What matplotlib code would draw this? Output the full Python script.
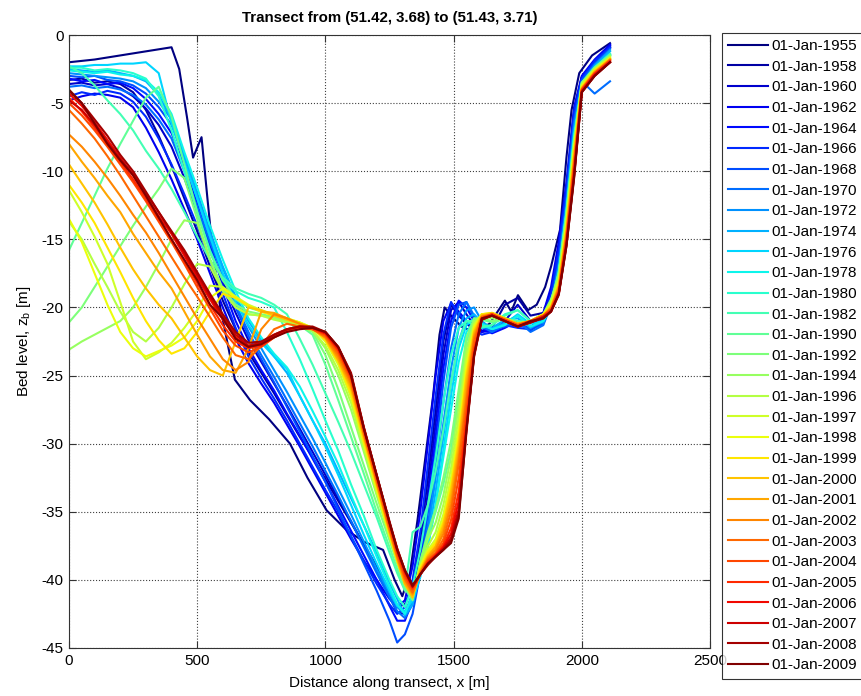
import numpy as np
import matplotlib.pyplot as plt

plt.rcParams['font.family'] = ['Liberation Sans', 'DejaVu Sans']
plt.rcParams['mathtext.fontset'] = 'custom'
plt.rcParams['mathtext.rm'] = 'Liberation Sans'
plt.rcParams['mathtext.it'] = 'Liberation Sans:italic'
plt.rcParams['axes.unicode_minus'] = False

# --- survey dates (legend) ---
years = [1955, 1958, 1960, 1962, 1964, 1966, 1968, 1970, 1972, 1974, 1976,
         1978, 1980, 1982, 1990, 1992, 1994, 1996, 1997, 1998, 1999, 2000,
         2001, 2002, 2003, 2004, 2005, 2006, 2007, 2008, 2009]

# --- 1955 profile (own distance points) ---
d1955 = [0, 100, 200, 300, 400, 430, 460, 484, 517, 540,
         556, 589, 647, 706, 780, 862, 930, 1005, 1080, 1150,
         1225, 1270, 1300, 1330, 1360, 1390, 1420, 1445, 1465, 1490,
         1530, 1580, 1640, 1700, 1725, 1751, 1790, 1824, 1857, 1880,
         1915, 1940, 1960, 1990, 2040, 2110]
z1955 = [-2.0, -1.8, -1.5, -1.2, -0.9, -2.5, -6.0, -9.0, -7.5, -12.0,
         -15.0, -19.9, -25.3, -26.8, -28.2, -30.0, -32.5, -34.9, -36.3, -37.2,
         -37.8, -40.0, -41.2, -39.5, -35.5, -31.0, -26.5, -22.0, -20.0, -20.6,
         -21.4, -21.8, -21.2, -19.5, -20.3, -19.1, -20.2, -19.8, -18.5, -17.0,
         -14.3, -9.0, -5.5, -2.8, -1.5, -0.6]

# --- distance along transect for the other surveys [m] ---
dist = [0, 50, 100, 150, 200, 250, 300, 350, 400, 450,
        500, 550, 600, 650, 700, 750, 800, 850, 900, 950,
        1000, 1050, 1100, 1150, 1200, 1250, 1280, 1310, 1340, 1370,
        1400, 1430, 1460, 1490, 1520, 1550, 1580, 1610, 1650, 1700,
        1750, 1800, 1850, 1880, 1910, 1940, 1970, 2000, 2050, 2110]

z1958 = [-3.3, -3.2, -3.5, -3.4, -3.6, -4.2, -5.5, -7.4, -9.6, -12.0,
         -14.4, -17.0, -19.5, -21.6, -23.3, -24.8, -26.3, -27.9, -29.5, -31.0,
         -32.6, -34.2, -35.8, -37.4, -39.0, -40.8, -42.0, -41.8, -40.5, -37.0,
         -32.5, -27.5, -22.5, -19.8, -20.6, -21.2, -21.6, -21.8, -21.5, -19.8,
         -19.3, -20.6, -20.4, -18.8, -15.8, -11.5, -5.5, -3.1, -1.9, -0.8]
z1960 = [-3.6, -3.5, -3.7, -3.6, -3.9, -4.5, -5.4, -6.6, -8.2, -10.5,
         -13.0, -15.6, -18.1, -20.4, -22.4, -24.0, -25.6, -27.2, -28.9, -30.6,
         -32.3, -34.0, -35.7, -37.5, -39.3, -41.2, -42.4, -42.5, -41.0, -38.0,
         -33.5, -28.5, -23.5, -20.2, -19.6, -20.5, -21.3, -21.7, -21.8, -21.0,
         -19.8, -21.0, -20.6, -19.0, -16.0, -11.8, -5.8, -3.2, -2.0, -0.9]
z1962 = [-4.8, -4.5, -4.3, -4.4, -4.6, -5.3, -6.8, -8.6, -10.6, -12.8,
         -15.0, -17.5, -20.0, -22.3, -24.1, -25.6, -27.0, -28.6, -30.2, -31.9,
         -33.6, -35.3, -37.0, -38.6, -40.0, -41.4, -42.0, -41.5, -39.0, -35.0,
         -30.0, -25.0, -21.0, -19.7, -20.3, -21.0, -21.5, -21.8, -21.7, -21.2,
         -21.3, -21.5, -20.4, -18.5, -15.2, -10.8, -5.3, -3.0, -1.8, -0.7]
z1964 = [-3.2, -3.4, -3.3, -3.6, -3.5, -3.9, -4.7, -5.8, -7.2, -9.6,
         -12.4, -15.4, -18.4, -21.0, -23.0, -24.6, -26.1, -27.8, -29.4, -31.1,
         -32.8, -34.6, -36.4, -38.2, -40.0, -41.9, -43.0, -43.0, -41.5, -39.0,
         -34.5, -29.5, -24.5, -21.0, -19.5, -20.0, -21.0, -21.5, -21.9, -21.5,
         -21.0, -21.7, -21.0, -19.3, -16.2, -11.6, -5.7, -3.1, -1.9, -0.8]
z1966 = [-4.5, -4.2, -4.4, -4.1, -4.3, -4.9, -6.0, -7.6, -9.5, -11.7,
         -14.0, -16.5, -19.0, -21.5, -23.6, -25.2, -26.7, -28.3, -30.0, -31.7,
         -33.4, -35.0, -36.8, -38.6, -40.3, -41.8, -42.5, -42.0, -40.0, -36.5,
         -31.5, -26.5, -22.0, -19.6, -20.5, -21.0, -21.6, -22.0, -21.8, -21.3,
         -21.5, -21.6, -20.8, -19.0, -15.8, -11.2, -5.6, -3.2, -1.9, -0.9]
z1968 = [-3.0, -3.1, -3.0, -3.3, -3.4, -3.7, -4.3, -5.3, -6.6, -9.0,
         -12.0, -14.8, -17.6, -20.0, -22.1, -23.8, -25.5, -27.3, -29.1, -30.9,
         -32.8, -34.8, -36.8, -38.8, -40.8, -43.0, -44.6, -44.0, -42.5, -39.5,
         -35.0, -30.5, -25.5, -21.5, -19.8, -19.6, -20.8, -21.5, -21.6, -21.4,
         -21.2, -21.6, -21.2, -19.6, -16.6, -12.0, -6.2, -3.3, -2.1, -1.0]
z1970 = [-3.8, -3.7, -3.9, -3.8, -4.0, -4.4, -5.1, -6.2, -7.6, -10.0,
         -12.6, -15.2, -17.6, -19.8, -21.8, -23.5, -25.1, -26.8, -28.5, -30.2,
         -32.0, -33.8, -35.7, -37.6, -39.5, -41.3, -42.3, -42.8, -41.8, -39.5,
         -36.0, -31.5, -27.0, -23.0, -20.5, -19.6, -20.6, -21.4, -21.8, -21.3,
         -21.0, -21.8, -21.3, -19.8, -16.8, -12.3, -6.5, -3.4, -4.3, -3.4]
z1972 = [-2.8, -2.9, -3.0, -3.1, -3.2, -3.4, -3.9, -4.9, -6.2, -8.8,
         -11.6, -14.4, -17.1, -19.4, -21.4, -23.0, -24.6, -26.2, -27.9, -29.6,
         -31.4, -33.3, -35.2, -37.2, -39.2, -41.0, -42.0, -42.5, -41.5, -39.0,
         -36.5, -32.5, -28.5, -24.5, -21.5, -20.2, -20.0, -21.0, -21.6, -21.1,
         -20.6, -21.4, -21.1, -19.8, -17.0, -12.5, -6.8, -3.5, -2.2, -1.1]
z1974 = [-2.5, -2.6, -2.7, -2.6, -2.8, -3.0, -3.4, -4.4, -6.2, -8.8,
         -11.8, -14.6, -17.0, -19.2, -21.0, -22.4, -23.6, -24.8, -26.5, -28.3,
         -30.0, -32.0, -34.0, -36.0, -38.0, -40.2, -41.4, -42.6, -41.8, -39.6,
         -37.0, -33.5, -29.5, -25.5, -22.5, -20.8, -20.5, -21.1, -21.5, -20.9,
         -20.8, -21.5, -21.0, -20.0, -17.2, -12.8, -7.1, -3.6, -2.3, -1.2]
z1976 = [-2.3, -2.3, -2.2, -2.2, -2.1, -2.1, -2.0, -2.8, -6.5, -9.3,
         -12.0, -14.8, -17.5, -19.6, -21.3, -22.6, -23.6, -24.5, -26.5, -28.3,
         -30.2, -32.3, -34.5, -36.7, -38.8, -40.8, -41.9, -42.3, -41.5, -39.8,
         -37.5, -34.5, -30.5, -26.5, -23.0, -21.3, -20.8, -21.3, -21.6, -21.2,
         -20.5, -21.2, -21.0, -20.0, -17.5, -13.0, -7.3, -3.7, -2.4, -1.4]
z1978 = [-2.6, -2.7, -2.8, -2.7, -2.9, -3.0, -3.3, -4.2, -5.8, -8.6,
         -11.2, -14.0, -16.5, -18.8, -20.8, -22.2, -23.4, -24.4, -25.8, -27.6,
         -29.5, -31.5, -33.8, -36.0, -38.3, -40.5, -41.8, -42.5, -41.0, -39.5,
         -37.5, -34.5, -31.0, -27.5, -24.0, -21.8, -21.0, -21.2, -21.6, -21.3,
         -20.6, -21.4, -21.0, -20.0, -17.5, -13.2, -7.6, -3.8, -2.5, -1.5]
z1980 = [-2.4, -2.4, -2.6, -2.5, -2.6, -2.8, -3.2, -4.5, -7.0, -10.0,
         -13.0, -15.8, -18.0, -18.8, -19.3, -19.6, -20.0, -21.8, -23.8, -26.0,
         -28.3, -30.5, -33.0, -35.3, -37.8, -40.0, -41.2, -42.0, -40.5, -37.8,
         -34.5, -31.0, -27.0, -23.5, -21.5, -21.0, -21.3, -21.5, -21.3, -20.5,
         -20.2, -21.0, -20.8, -19.8, -17.5, -13.0, -7.5, -3.7, -2.4, -1.4]
z1982 = [-2.3, -2.8, -3.7, -4.8, -5.8, -7.0, -8.5, -9.8, -11.3, -13.0,
         -14.8, -16.5, -17.8, -18.6, -19.0, -19.3, -19.8, -20.5, -22.3, -24.2,
         -26.3, -28.4, -30.6, -33.0, -35.4, -38.0, -39.5, -40.8, -36.5, -36.1,
         -34.5, -32.0, -29.0, -25.5, -22.5, -21.0, -21.0, -21.4, -21.3, -20.6,
         -20.2, -21.0, -20.7, -19.8, -17.4, -13.0, -7.6, -3.6, -2.4, -1.4]
z1990 = [-15.8, -13.8, -11.8, -9.8, -8.0, -6.3, -4.6, -3.8, -6.0, -9.5,
         -13.0, -16.0, -18.0, -19.4, -20.0, -20.3, -20.5, -20.8, -21.3, -22.0,
         -24.2, -26.8, -29.5, -32.2, -35.0, -37.6, -39.2, -40.7, -41.4, -38.8,
         -36.8, -35.0, -33.0, -30.5, -26.5, -22.5, -21.0, -20.9, -21.1, -20.8,
         -21.0, -21.1, -20.6, -19.6, -17.6, -13.2, -7.8, -3.5, -2.4, -1.5]
z1992 = [-21.1, -20.0, -18.5, -17.0, -15.5, -14.0, -12.6, -11.3, -9.8, -10.5,
         -13.5, -16.5, -18.6, -19.8, -20.3, -20.5, -20.7, -21.0, -21.4, -21.8,
         -23.5, -26.0, -28.8, -31.6, -34.4, -37.1, -38.8, -40.4, -41.5, -38.6,
         -36.5, -34.8, -32.5, -29.8, -26.0, -22.2, -20.8, -20.8, -21.0, -20.9,
         -21.2, -21.0, -20.5, -19.5, -17.5, -13.2, -7.8, -3.5, -2.4, -1.5]
z1994 = [-23.1, -22.5, -22.0, -21.5, -21.0, -20.0, -18.5, -16.8, -15.0, -13.6,
         -13.8, -16.5, -18.8, -20.0, -20.5, -20.6, -20.8, -21.0, -21.3, -21.7,
         -23.0, -25.0, -27.5, -30.6, -33.8, -36.8, -38.6, -40.2, -41.3, -38.8,
         -37.0, -35.8, -33.8, -31.0, -27.2, -23.0, -21.0, -20.6, -20.8, -20.9,
         -21.2, -21.0, -20.5, -19.4, -17.8, -13.5, -8.0, -3.6, -2.5, -1.6]
z1996 = [-13.7, -15.0, -16.8, -18.5, -20.3, -21.8, -22.5, -21.5, -20.0, -18.3,
         -16.8, -17.0, -18.8, -20.0, -20.5, -20.6, -20.9, -21.1, -21.4, -21.7,
         -22.8, -24.6, -27.0, -30.3, -33.6, -36.8, -38.6, -40.2, -41.2, -39.0,
         -37.5, -36.5, -34.5, -31.8, -28.0, -23.5, -21.2, -20.5, -20.6, -20.9,
         -21.2, -21.0, -20.5, -19.6, -18.0, -13.8, -8.2, -3.6, -2.5, -1.6]
z1997 = [-11.4, -13.0, -14.8, -16.8, -19.6, -22.5, -23.8, -23.3, -22.6, -21.5,
         -20.2, -18.4, -18.5, -19.2, -19.8, -20.2, -20.5, -20.8, -21.1, -21.5,
         -22.5, -24.2, -26.6, -30.0, -33.4, -36.7, -38.6, -40.2, -41.1, -39.0,
         -37.8, -37.0, -35.2, -32.5, -28.8, -24.0, -21.3, -20.5, -20.5, -20.8,
         -21.2, -21.0, -20.5, -19.8, -18.0, -13.8, -8.3, -3.7, -2.6, -1.7]
z1998 = [-13.5, -15.2, -17.5, -19.8, -21.8, -23.0, -23.6, -23.2, -22.8, -22.2,
         -21.0, -19.3, -18.6, -19.3, -19.9, -20.3, -20.6, -20.8, -21.1, -21.5,
         -22.4, -24.0, -26.4, -29.9, -33.3, -36.7, -38.6, -40.3, -41.2, -39.1,
         -37.9, -37.2, -35.6, -33.0, -29.3, -24.5, -21.5, -20.5, -20.4, -20.8,
         -21.2, -21.0, -20.5, -19.8, -18.2, -14.0, -8.5, -3.8, -2.6, -1.7]
z1999 = [-11.0, -12.3, -13.8, -15.6, -17.4, -19.3, -21.0, -22.4, -23.4, -23.0,
         -21.8, -20.3, -19.0, -19.3, -19.9, -20.3, -20.6, -20.9, -21.2, -21.5,
         -22.4, -24.0, -26.3, -29.8, -33.2, -36.6, -38.6, -40.3, -41.2, -39.2,
         -38.0, -37.3, -35.8, -33.2, -29.6, -24.8, -21.6, -20.5, -20.4, -20.8,
         -21.2, -21.0, -20.5, -19.9, -18.2, -14.1, -8.6, -3.8, -2.6, -1.7]
z2000 = [-9.5, -10.9, -12.3, -13.9, -15.6, -17.2, -18.6, -19.8, -20.8, -22.2,
         -23.6, -24.6, -25.0, -22.5, -20.0, -20.2, -20.6, -20.9, -21.2, -21.5,
         -22.3, -23.9, -26.0, -29.6, -33.0, -36.5, -38.5, -40.3, -41.3, -39.3,
         -38.2, -37.5, -36.0, -33.5, -30.0, -25.2, -21.8, -20.6, -20.4, -20.8,
         -21.2, -21.0, -20.6, -20.0, -18.4, -14.3, -8.8, -3.9, -2.7, -1.8]
z2001 = [-8.0, -9.3, -10.5, -11.8, -13.0, -14.6, -16.0, -17.4, -18.6, -20.3,
         -22.0, -23.6, -24.6, -24.8, -23.0, -20.3, -20.4, -20.8, -21.2, -21.5,
         -22.2, -23.8, -25.8, -29.4, -32.9, -36.4, -38.4, -40.2, -41.1, -39.4,
         -38.3, -37.6, -36.3, -34.0, -30.5, -25.8, -22.0, -20.6, -20.5, -20.9,
         -21.2, -21.0, -20.6, -20.0, -18.5, -14.5, -9.0, -3.9, -2.7, -1.8]
z2002 = [-7.3, -8.2, -9.3, -10.5, -11.8, -13.2, -14.5, -16.0, -17.6, -19.2,
         -20.8, -22.3, -23.8, -24.6, -24.0, -21.6, -20.5, -20.8, -21.2, -21.6,
         -22.2, -23.6, -25.6, -29.3, -32.8, -36.3, -38.3, -40.0, -41.0, -39.5,
         -38.4, -37.8, -36.6, -34.5, -31.0, -26.5, -22.2, -20.7, -20.5, -20.9,
         -21.3, -21.0, -20.6, -20.1, -18.6, -14.7, -9.3, -4.0, -2.8, -1.8]
z2003 = [-5.5, -6.5, -7.6, -8.9, -10.3, -11.8, -13.3, -14.8, -16.3, -17.8,
         -19.2, -20.7, -22.2, -23.5, -23.8, -22.8, -21.6, -21.2, -21.4, -21.6,
         -22.1, -23.4, -25.4, -29.2, -32.7, -36.2, -38.2, -39.9, -40.9, -39.5,
         -38.5, -38.0, -37.0, -35.0, -31.5, -27.0, -22.5, -20.7, -20.5, -20.9,
         -21.3, -21.0, -20.6, -20.1, -18.7, -14.8, -9.5, -4.0, -2.8, -1.9]
z2004 = [-5.0, -5.9, -7.0, -8.2, -9.5, -10.8, -12.2, -13.7, -15.2, -16.8,
         -18.5, -20.1, -21.7, -22.8, -23.3, -22.9, -22.2, -21.7, -21.5, -21.6,
         -22.0, -23.2, -25.2, -29.0, -32.5, -36.0, -38.0, -39.7, -40.7, -39.6,
         -38.6, -38.1, -37.3, -35.6, -32.5, -27.8, -23.0, -20.8, -20.5, -20.9,
         -21.3, -21.0, -20.6, -20.2, -18.8, -15.0, -9.7, -4.0, -2.8, -1.9]
z2005 = [-4.6, -5.6, -6.8, -8.0, -9.3, -10.6, -12.0, -13.5, -15.0, -16.6,
         -18.2, -19.8, -21.3, -22.5, -23.0, -22.8, -22.2, -21.7, -21.5, -21.5,
         -21.9, -23.1, -25.1, -28.9, -32.4, -35.9, -37.9, -39.5, -40.6, -39.6,
         -38.7, -38.2, -37.5, -36.2, -33.5, -28.5, -23.3, -20.8, -20.5, -21.0,
         -21.4, -21.1, -20.7, -20.2, -18.9, -15.2, -10.0, -4.1, -2.9, -1.9]
z2006 = [-4.3, -5.2, -6.4, -7.7, -9.0, -10.3, -11.8, -13.3, -14.6, -16.2,
         -17.8, -19.4, -20.9, -22.2, -22.9, -22.7, -22.1, -21.6, -21.4, -21.5,
         -21.9, -23.0, -25.0, -28.9, -32.4, -35.8, -37.8, -39.4, -40.5, -39.6,
         -38.8, -38.2, -37.6, -36.6, -34.2, -28.8, -23.4, -20.8, -20.6, -21.0,
         -21.4, -21.1, -20.7, -20.3, -19.0, -15.3, -10.2, -4.1, -2.9, -2.0]
z2007 = [-4.8, -5.5, -6.6, -7.9, -9.1, -10.2, -11.6, -13.0, -14.5, -16.0,
         -17.6, -19.2, -20.7, -22.0, -22.8, -22.6, -22.0, -21.6, -21.4, -21.5,
         -21.8, -22.9, -24.9, -28.8, -32.3, -35.8, -37.7, -39.3, -40.4, -39.6,
         -38.8, -38.3, -37.7, -36.9, -34.8, -29.0, -23.5, -20.9, -20.6, -21.0,
         -21.4, -21.1, -20.7, -20.3, -19.0, -15.4, -10.3, -4.2, -3.0, -2.0]
z2008 = [-4.1, -5.0, -6.2, -7.4, -8.8, -10.0, -11.5, -13.0, -14.4, -15.8,
         -17.4, -19.0, -20.5, -21.8, -22.6, -22.5, -22.0, -21.6, -21.4, -21.4,
         -21.8, -22.9, -24.8, -28.8, -32.3, -35.7, -37.7, -39.3, -40.5, -39.6,
         -38.9, -38.3, -37.8, -37.1, -35.2, -29.2, -23.6, -20.9, -20.6, -21.0,
         -21.4, -21.1, -20.8, -20.3, -19.1, -15.5, -10.4, -4.2, -3.0, -2.0]
z2009 = [-4.0, -5.0, -6.5, -8.0, -9.2, -10.3, -11.8, -13.4, -15.0, -16.5,
         -18.0, -19.8, -20.8, -22.3, -22.9, -22.7, -22.2, -21.8, -21.6, -21.5,
         -21.8, -22.9, -25.0, -28.9, -32.3, -35.8, -37.8, -39.3, -40.4, -39.6,
         -38.8, -38.3, -37.8, -37.3, -35.5, -29.0, -23.5, -20.8, -20.6, -21.0,
         -21.4, -21.0, -20.8, -20.3, -19.0, -15.5, -10.5, -4.2, -3.0, -2.0]

profiles = [z1958, z1960, z1962, z1964, z1966, z1968, z1970, z1972, z1974,
            z1976, z1978, z1980, z1982, z1990, z1992, z1994, z1996, z1997,
            z1998, z1999, z2000, z2001, z2002, z2003, z2004, z2005, z2006,
            z2007, z2008, z2009]

labels = ['01-Jan-%d' % y for y in years]
colors = plt.cm.jet(np.linspace(0, 1, len(years)))

fig = plt.figure(figsize=(8.62, 6.96), dpi=100)
ax = fig.add_axes([0.080, 0.069, 0.7437, 0.8807])

ax.plot(d1955, z1955, color=colors[0], lw=1.5, label=labels[0])
for k, zz in enumerate(profiles):
    ax.plot(dist, zz, color=colors[k + 1], lw=1.5, label=labels[k + 1])

ax.set_xlim(0, 2500)
ax.set_ylim(-45, 0)
ax.set_xticks(np.arange(0, 2501, 500))
ax.set_yticks(np.arange(-45, 1, 5))
ax.grid(True, ls=':', color='0.25', lw=0.8)
ax.tick_params(direction='in', top=True, right=True, labelsize=11, length=5,
               color='0.2', pad=4)
for s in ax.spines.values():
    s.set_color('0.2')

ax.set_title('Transect from (51.42, 3.68) to (51.43, 3.71)', fontsize=10.8,
             fontweight='bold', pad=9.5)
ax.set_xlabel('Distance along transect, x [m]', fontsize=11, labelpad=6)
ax.set_ylabel(r'Bed level, z$_\mathrm{b}$ [m]', fontsize=11, labelpad=6)

leg = ax.legend(loc='upper left', bbox_to_anchor=(722 / 862, 1 - 33 / 696),
                bbox_transform=fig.transFigure, fontsize=11, frameon=True,
                fancybox=False, edgecolor='black', borderpad=0.4,
                labelspacing=0.435, handlelength=2.6, handletextpad=0.2,
                borderaxespad=0)
leg.get_frame().set_linewidth(0.8)

fig.savefig('out.png', dpi=100)
